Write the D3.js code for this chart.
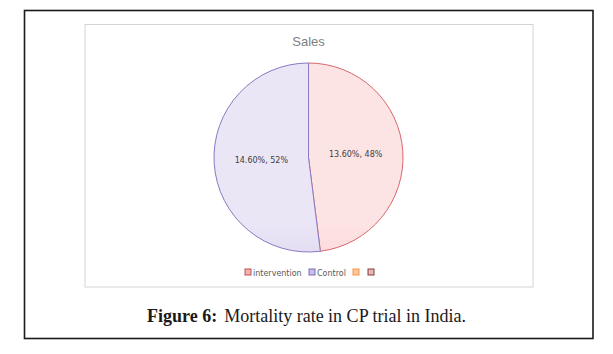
<!DOCTYPE html>
<html><head><meta charset="utf-8">
<script src="https://cdn.jsdelivr.net/npm/d3@7"></script>
<style>html,body{margin:0;padding:0;background:#fff;}svg{display:block;}</style>
</head><body>
<svg id="c" width="613" height="354"></svg>
<script>
const categories = ["intervention", "Control", "", ""];
const rates = ["13.60%", "14.60%"];
const shares = [48, 52];
const title = "Sales";
const caption = ["Figure 6:", "Mortality rate in CP trial in India."];

const svg = d3.select("#c");
const fills = [["#fde4e4", "#fbb0b1"], ["#ebe6f6", "#c6b9e6"]];
const strokes = ["#d8686c", "#8a79c0"];
const legendFill = ["#f5b3b3", "#c9bde9", "#fbc79a", "#e8b8b8"];
const legendStroke = ["#c0504d", "#7a6ab3", "#f79646", "#8b3a3a"];

// outer frame
svg.append("rect").attr("x", 24.5).attr("y", 10.5).attr("width", 568.5).attr("height", 328)
  .attr("fill", "none").attr("stroke", "#1a1a1a").attr("stroke-width", 1.6);
// chart area
svg.append("rect").attr("x", 85).attr("y", 24.5).attr("width", 448).attr("height", 262.5)
  .attr("fill", "#fff").attr("stroke", "#d4d4d4").attr("stroke-width", 1);

svg.append("text").attr("x", 308.5).attr("y", 46).attr("text-anchor", "middle")
  .attr("font-family", "Liberation Sans, Arial, sans-serif").attr("font-size", 13)
  .attr("fill", "#7f7f7f").text(title);

const cx = 308.5, cy = 157.5, r = 94.5;
const defs = svg.append("defs");
fills.forEach((f, i) => {
  const g = defs.append("linearGradient").attr("id", "g" + i)
    .attr("gradientUnits", "userSpaceOnUse")
    .attr("x1", 0).attr("y1", cy - r).attr("x2", 0).attr("y2", cy + r);
  g.append("stop").attr("offset", "0%").attr("stop-color", f[0]);
  g.append("stop").attr("offset", "100%").attr("stop-color", f[1]);
});

const pie = d3.pie().sort(null).value(d => d)(shares);
const arc = d3.arc().innerRadius(0).outerRadius(r);
const gp = svg.append("g").attr("transform", `translate(${cx},${cy})`);
gp.selectAll("path").data(pie).join("path")
  .attr("d", arc)
  .attr("fill", (d, i) => `url(#g${i})`)
  .attr("stroke", (d, i) => strokes[i]).attr("stroke-width", 1);

const labelArc = d3.arc().innerRadius(r * 0.5).outerRadius(r * 0.5);
gp.selectAll("text").data(pie).join("text")
  .attr("transform", d => { const c = labelArc.centroid(d); return `translate(${c[0]},${c[1]})`; })
  .attr("text-anchor", "middle").attr("dy", "0.35em")
  .attr("font-family", "DejaVu Sans, Verdana, sans-serif").attr("font-size", 8)
  .attr("fill", "#404040")
  .text((d, i) => `${rates[i]}, ${shares[i]}%`);

// legend
const lx = [245, 309, 353, 368];
const lg = svg.append("g");
categories.forEach((c, i) => {
  lg.append("rect").attr("x", lx[i]).attr("y", 269).attr("width", 6).attr("height", 6)
    .attr("fill", legendFill[i]).attr("stroke", legendStroke[i]).attr("stroke-width", 1);
  if (c) lg.append("text").attr("x", lx[i] + 8).attr("y", 275.5)
    .attr("font-family", "DejaVu Sans, Verdana, sans-serif").attr("font-size", 8)
    .attr("fill", "#595959").text(c);
});

const cap = svg.append("text").attr("x", 147).attr("y", 322)
  .attr("font-family", "Liberation Serif, Times New Roman, serif").attr("font-size", 18)
  .attr("fill", "#1a1a1a");
cap.append("tspan").attr("font-weight", "bold").text(caption[0]);
cap.append("tspan").attr("dx", 7).text(caption[1]);
</script>
</body></html>
